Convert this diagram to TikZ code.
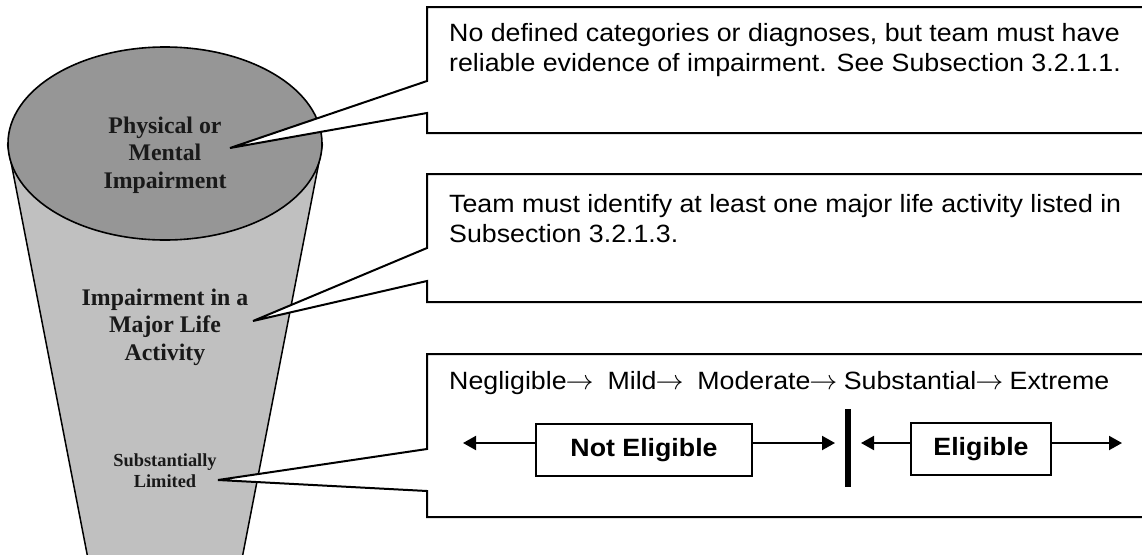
\RequirePackage{fix-cm}
\documentclass[tikz,border=0pt]{standalone}
\usepackage{graphicx}
\usepackage{fontspec}
\setmainfont{Liberation Serif}
\newfontfamily\arialf[FakeStretch=1.07]{Liberation Sans}
\usetikzlibrary{arrows.meta}
\definecolor{conegray}{RGB}{192,192,192}
\definecolor{topgray}{RGB}{150,150,150}
\newcommand{\tarr}{\kern-1pt\scalebox{1.12}[1.1]{$\rightarrow$}\kern-1pt}
\begin{document}
\begin{tikzpicture}[x=1pt,y=-1pt,
  conetext/.style={font=\bfseries\fontsize{23.8}{27.5}\selectfont, align=center, text=black!90, inner sep=0pt},
  smallcone/.style={font=\bfseries\fontsize{18.4}{21}\selectfont, align=center, text=black!90, inner sep=0pt},
  callout/.style={draw=black, line width=2pt, fill=white, line join=miter},
  boxtext/.style={font=\arialf\fontsize{25}{30}\selectfont, anchor=west, align=left, inner sep=0pt},
  elig/.style={draw, line width=2pt, font=\arialf\bfseries\fontsize{25}{30}\selectfont, inner sep=0pt, minimum height=52pt},
  arr/.style={line width=2pt, -{Triangle[length=13pt,width=14pt]}},
  barline/.style={line width=6pt}
]
\useasboundingbox (0,0) rectangle (1142,554);
\clip (0,0) rectangle (1142,554);
% cone
\draw[fill=conegray, line width=1.5pt] (7.7,145) -- (96,600) -- (234,600) -- (322.3,145) -- cycle;
\draw[fill=topgray, line width=1.6pt] (165,143.5) ellipse [x radius=157, y radius=96.5];
% cone labels
\node[conetext] (l1) at (165,155) {Physical or\\Mental\\Impairment};
\node[conetext] (l2) at (165,327) {Impairment in a\\Major Life\\Activity};
\node[smallcone] (l3) at (165,471) {Substantially\\Limited};
% callout tips
\coordinate (t1) at (230,148);
\coordinate (t2) at (253,321);
\coordinate (t3) at (218,480);
% callouts
\draw[callout] (1160,133) -- (427,133) -- (427,113) -- (t1) -- (427,81) -- (427,7) -- (1160,7);
\draw[callout] (1160,302) -- (427,302) -- (427,281) -- (t2) -- (427,248) -- (427,174) -- (1160,174);
\draw[callout] (1160,517) -- (427,517) -- (427,491) -- (t3) -- (427,449) -- (427,354) -- (1160,354);
% callout texts
\node[boxtext] (b1) at (449,50) {No defined categories or diagnoses, but team must have\\reliable evidence of impairment. See Subsection 3.2.1.1.};
\node[boxtext] (b2) at (449,219) {Team must identify at least one major life activity listed in\\Subsection 3.2.1.3.};
\node[boxtext] (b3) at (449,383) {Negligible\tarr\ \ Mild\tarr\ \ Moderate\tarr\ Substantial\tarr\ Extreme};
% eligibility scale
\node[elig, minimum width=216pt] (ne) at (644,450) {Not Eligible};
\node[elig, minimum width=140pt] (el) at (981,449) {Eligible};
\coordinate (a1) at (463,443);
\coordinate (a2) at (835,443);
\coordinate (a3) at (861,443);
\coordinate (a4) at (1122,443);
\coordinate (bt) at (848,409);
\coordinate (bb) at (848,487);
\draw[arr] (ne.west |- a1) -- (a1);
\draw[arr] (ne.east |- a2) -- (a2);
\draw[arr] (el.west |- a3) -- (a3);
\draw[arr] (el.east |- a4) -- (a4);
\draw[barline] (bt) -- (bb);
\end{tikzpicture}
\end{document}
